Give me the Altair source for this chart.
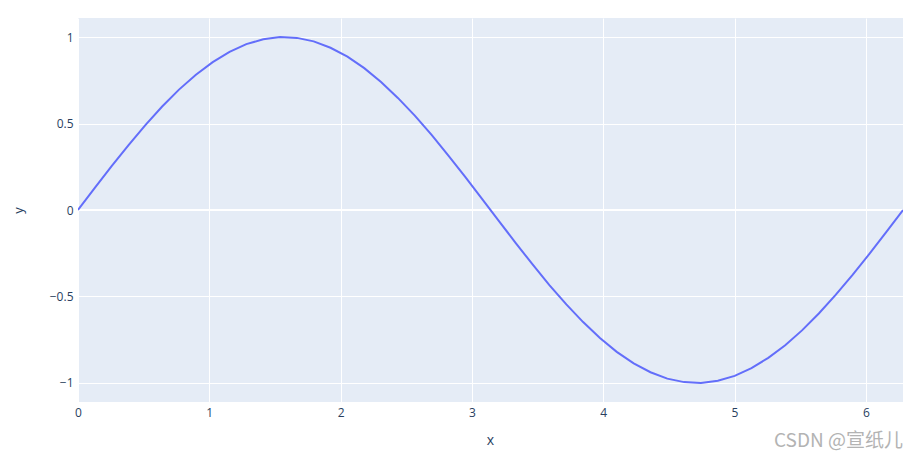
import altair as alt
import pandas as pd

x_vals = [0.0, 0.128, 0.256, 0.385, 0.513, 0.641, 0.769, 0.898, 1.026, 1.154,
          1.282, 1.411, 1.539, 1.667, 1.795, 1.923, 2.052, 2.180, 2.308, 2.436,
          2.565, 2.693, 2.821, 2.949, 3.077, 3.206, 3.334, 3.462, 3.590, 3.719,
          3.847, 3.975, 4.103, 4.232, 4.360, 4.488, 4.616, 4.744, 4.873, 5.001,
          5.129, 5.257, 5.386, 5.514, 5.642, 5.770, 5.899, 6.027, 6.155, 6.283]
y_vals = [0.0, 0.128, 0.254, 0.375, 0.491, 0.598, 0.696, 0.782, 0.855, 0.914,
          0.959, 0.987, 0.9995, 0.995, 0.975, 0.938, 0.887, 0.820, 0.740, 0.648,
          0.546, 0.434, 0.315, 0.191, 0.064, -0.064, -0.191, -0.315, -0.434, -0.546,
          -0.648, -0.740, -0.820, -0.887, -0.938, -0.975, -0.995, -0.9995, -0.987, -0.959,
          -0.914, -0.855, -0.782, -0.696, -0.598, -0.491, -0.375, -0.254, -0.128, 0.0]
x_ticks = [0, 1, 2, 3, 4, 5, 6]
y_ticks = [-1, -0.5, 0, 0.5, 1]
watermark = "CSDN @宣纸儿"

df = pd.DataFrame({"x": x_vals, "y": y_vals})

FONT = "Open Sans"
TXT = "#2a3f5f"

xs = alt.Scale(domain=[0, 6.283], nice=False, zero=False)
ys = alt.Scale(domain=[-1.11, 1.11], nice=False, zero=False)

line = alt.Chart(df).mark_line(color="#636efa", strokeWidth=2, clip=True).encode(
    x=alt.X("x:Q", scale=xs, axis=alt.Axis(
        values=x_ticks, format="~g", title="x", grid=True, gridColor="white",
        gridWidth=1, domain=False, ticks=False, labelPadding=5,
        labelFont=FONT, labelFontSize=12, labelColor=TXT,
        titleFont=FONT, titleFontSize=14, titleColor=TXT, titleFontWeight="normal",
        titleX=412, titleY=38, titleBaseline="middle", labelFlush=False)),
    y=alt.Y("y:Q", scale=ys, axis=alt.Axis(
        values=y_ticks, format="~g", title="y", grid=True, gridColor="white",
        gridWidth=1, domain=False, ticks=False, labelPadding=5,
        labelFont=FONT, labelFontSize=12, labelColor=TXT,
        titleFont=FONT, titleFontSize=13, titleColor=TXT, titleFontWeight="normal",
        titleX=-60, titleY=192, titleAngle=-90, titleAlign="center",
        titleBaseline="middle", labelFlush=False)),
)

zero_df = pd.DataFrame({"y": [0]})
zero_rule = alt.Chart(zero_df).mark_rule(color="white", strokeWidth=2).encode(
    y=alt.Y("y:Q", scale=ys)
)

wm_df = pd.DataFrame({"t": [watermark]})
wm = alt.Chart(wm_df).mark_text(
    align="right", baseline="middle", fontSize=19, color="#b3b3b3",
    font="Noto Sans CJK SC"
).encode(text="t:N", x=alt.value(825), y=alt.value(423))

chart = alt.layer(zero_rule, line, wm).properties(
    width=825, height=384,
    autosize=alt.AutoSizeParams(type="none"),
    padding={"left": 70, "top": 10, "right": 7, "bottom": 51},
).configure_view(fill="#E5ECF6", stroke=None)

chart.save("out.html", embed_options={"renderer": "svg", "actions": False})
